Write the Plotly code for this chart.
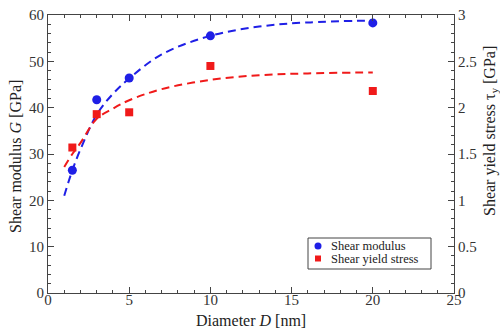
import plotly.graph_objects as go

# Data points
diam = [1.5, 3, 5, 10, 20]
shear_modulus = [26.5, 41.7, 46.4, 55.5, 58.3]
yield_stress = [1.57, 1.93, 1.95, 2.45, 2.18]

# Fit curves
fit_x = [1, 1.5, 2, 3, 4, 5, 7, 10, 13, 16, 20]
fit_modulus = [21, 26.5, 31, 38.5, 43, 46.3, 51.5, 55.5, 57.5, 58.4, 58.8]
fit_stress = [1.36, 1.5, 1.62, 1.88, 1.99, 2.08, 2.2, 2.3, 2.35, 2.37, 2.38]

xticks = [0, 5, 10, 15, 20, 25]
yticks = [0, 10, 20, 30, 40, 50, 60]
y2ticks = [0, 0.5, 1, 1.5, 2, 2.5, 3]
legend_names = ["Shear modulus", "Shear yield stress"]
x_title = "Diameter <i>D</i> [nm]"
y_title = "Shear modulus <i>G</i> [GPa]"
y2_title = "Shear yield stress τ<sub>y</sub> [GPa]"

BLUE = "#1f1fe6"
RED = "#f01a1a"
SERIF = "Liberation Serif, Times New Roman, serif"

# plot area in pixels
L, R, T, B = 48, 454, 15, 293
W, H = R - L, B - T
def px(x):
    return (x - L) / W
def py(y):
    return (B - y) / H

fig = go.Figure()
fig.add_trace(go.Scatter(x=fit_x, y=fit_modulus, mode="lines", line=dict(color=BLUE, width=2, dash="8px,5px", shape="spline"), showlegend=False, hoverinfo="skip"))
fig.add_trace(go.Scatter(x=fit_x, y=fit_stress, mode="lines", yaxis="y2", line=dict(color=RED, width=2, dash="8px,5px", shape="spline"), showlegend=False, hoverinfo="skip"))
fig.add_trace(go.Scatter(x=diam, y=shear_modulus, mode="markers", name=legend_names[0], marker=dict(color=BLUE, size=9, symbol="circle"), showlegend=False))
fig.add_trace(go.Scatter(x=diam, y=yield_stress, mode="markers", yaxis="y2", name=legend_names[1], marker=dict(color=RED, size=8, symbol="square"), showlegend=False))

axis_common = dict(ticks="inside", ticklen=6, tickwidth=1, tickcolor="#444", showline=True, linecolor="#444", linewidth=1.2,
                   showgrid=False, zeroline=False, automargin=False, tickfont=dict(family=SERIF, size=15, color="#333"))

# manual legend box
shapes = [
    dict(type="rect", xref="paper", yref="paper", x0=px(308), x1=px(431), y0=py(269), y1=py(238),
         line=dict(color="#444", width=1), fillcolor="white", layer="above"),
    dict(type="circle", xref="paper", yref="paper", x0=px(314.5), x1=px(321.5), y0=py(249.5), y1=py(242.5),
         line=dict(width=0), fillcolor=BLUE, layer="above"),
    dict(type="rect", xref="paper", yref="paper", x0=px(315), x1=px(321), y0=py(261.5), y1=py(255.5),
         line=dict(width=0), fillcolor=RED, layer="above"),
]
title_font = dict(family=SERIF, size=16, color="#222")
annotations = [
    dict(xref="paper", yref="paper", x=px(329), y=py(246), text=legend_names[0], showarrow=False,
         xanchor="left", yanchor="middle", font=dict(family=SERIF, size=12.5, color="#222")),
    dict(xref="paper", yref="paper", x=px(329), y=py(258.5), text=legend_names[1], showarrow=False,
         xanchor="left", yanchor="middle", font=dict(family=SERIF, size=12.5, color="#222")),
    dict(xref="paper", yref="paper", x=px(251), y=py(320), text=x_title, showarrow=False,
         xanchor="center", yanchor="middle", font=title_font),
    dict(xref="paper", yref="paper", x=px(16), y=py(157), text=y_title, showarrow=False, textangle=-90,
         xanchor="center", yanchor="middle", font=title_font),
    dict(xref="paper", yref="paper", x=px(490), y=py(131), text=y2_title, showarrow=False, textangle=-90,
         xanchor="center", yanchor="middle", font=title_font),
]

fig.update_layout(
    width=500, height=331,
    margin=dict(l=L, r=500 - R, t=T, b=331 - B),
    paper_bgcolor="white", plot_bgcolor="white",
    xaxis=dict(range=[0, 25], tickvals=xticks, mirror="ticks", ticklabelstandoff=-7,
               minor=dict(dtick=1, ticks="inside", ticklen=3, tickcolor="#444"),
               **axis_common),
    yaxis=dict(range=[0, 60], tickvals=yticks,
               minor=dict(dtick=2, ticks="inside", ticklen=3, tickcolor="#444"),
               **axis_common),
    yaxis2=dict(range=[0, 3], tickvals=y2ticks, overlaying="y", side="right",
                minor=dict(dtick=0.1, ticks="inside", ticklen=3, tickcolor="#444"),
                **axis_common),
    shapes=shapes,
    annotations=annotations,
    showlegend=False,
)

fig.write_html("out.html")
